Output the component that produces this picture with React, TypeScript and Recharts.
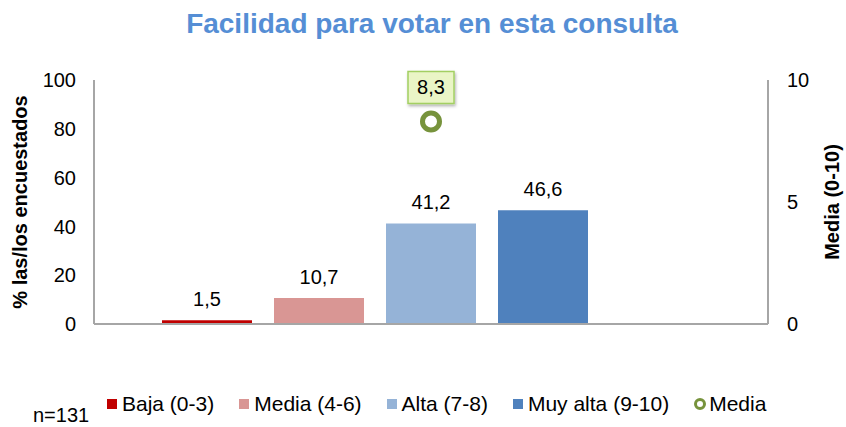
import React from "react";
import {
  ComposedChart,
  Bar,
  Line,
  XAxis,
  YAxis,
  LabelList,
} from "recharts";

const title = "Facilidad para votar en esta consulta";
const categories = ["Baja (0-3)", "Media (4-6)", "Alta (7-8)", "Muy alta (9-10)"];
const shares = [1.5, 10.7, 41.2, 46.6];
const barColors = ["#C00000", "#D99694", "#95B3D7", "#4F81BD"];
const meanLabel = "Media";
const meanScore = 8.3;
const leftTicks = [0, 20, 40, 60, 80, 100];
const rightTicks = [0, 5, 10];
const sampleNote = "n=131";

const FONT = "'Liberation Sans', Arial, sans-serif";
const AXIS = "#A6A6A6";
const GREEN = "#77933C";

const row: Record<string, number | string | null> = { name: "Total", blank: null, media: meanScore };
categories.forEach((_, i) => {
  row[`s${i}`] = shares[i];
});
const data = [row];

const fmt = (v: unknown) => (typeof v === "number" ? v.toFixed(1).replace(".", ",") : "");

function MeanBox(props: any) {
  const { x, y, value } = props;
  if (x == null || y == null) return null;
  return (
    <g>
      <defs>
        <filter id="boxShadow" x="-30%" y="-30%" width="160%" height="180%">
          <feDropShadow dx="1" dy="2" stdDeviation="1.5" floodColor="#000" floodOpacity="0.3" />
        </filter>
      </defs>
      <rect
        x={x - 23}
        y={y - 50}
        width={46}
        height={32}
        fill="#EAF5C6"
        stroke="#A3CF62"
        strokeWidth={1.5}
        filter="url(#boxShadow)"
      />
      <text
        x={x}
        y={y - 34}
        textAnchor="middle"
        dominantBaseline="central"
        fontSize={20}
        fontFamily={FONT}
        fill="#000"
      >
        {fmt(value)}
      </text>
    </g>
  );
}

function LeftTitle(props: any) {
  const vb = props.viewBox || {};
  const cx = vb.x + 20;
  const cy = vb.y + vb.height / 2;
  return (
    <text
      x={cx}
      y={cy}
      transform={`rotate(-90 ${cx} ${cy})`}
      textAnchor="middle"
      dominantBaseline="central"
      fontSize={20}
      fontWeight="bold"
      fontFamily={FONT}
      fill="#000"
    >
      % las/los encuestados
    </text>
  );
}

function RightTitle(props: any) {
  const vb = props.viewBox || {};
  const cx = vb.x + 64;
  const cy = vb.y + vb.height / 2;
  return (
    <text
      x={cx}
      y={cy}
      transform={`rotate(-90 ${cx} ${cy})`}
      textAnchor="middle"
      dominantBaseline="central"
      fontSize={20}
      fontWeight="bold"
      fontFamily={FONT}
      fill="#000"
    >
      Media (0-10)
    </text>
  );
}

export default function App() {
  const tick = { fill: "#000", fontSize: 20, fontFamily: FONT };
  return (
    <div style={{ position: "absolute", left: 0, top: 0, width: 846, height: 427, background: "#fff", fontFamily: FONT }}>
      <div
        style={{
          position: "absolute",
          left: 0,
          top: 8,
          width: 864,
          textAlign: "center",
          fontSize: 28,
          lineHeight: "32px",
          fontWeight: "bold",
          color: "#558ED5",
        }}
      >
        {title}
      </div>
      <ComposedChart
        width={846}
        height={427}
        data={data}
        margin={{ top: 80, right: 0, bottom: 103, left: 0 }}
        barSize={90}
        barGap={22}
      >
        <XAxis dataKey="name" hide />
        <YAxis
          yAxisId="left"
          width={94}
          domain={[0, 100]}
          ticks={leftTicks}
          interval={0}
          axisLine={{ stroke: AXIS, strokeWidth: 2 }}
          tickLine={false}
          tickMargin={12}
          tick={tick}
          label={{ content: LeftTitle }}
        />
        <YAxis
          yAxisId="right"
          orientation="right"
          width={78}
          domain={[0, 10]}
          ticks={rightTicks}
          interval={0}
          axisLine={{ stroke: AXIS, strokeWidth: 2 }}
          tickLine={false}
          tickMargin={13}
          tick={tick}
          label={{ content: RightTitle }}
        />
        {categories.map((c, i) => (
          <Bar key={c} yAxisId="left" dataKey={`s${i}`} name={c} fill={barColors[i]} isAnimationActive={false}>
            <LabelList
              dataKey={`s${i}`}
              position="top"
              offset={14}
              formatter={fmt}
              style={{ fill: "#000", fontSize: 20, fontFamily: FONT }}
            />
          </Bar>
        ))}
        <Bar yAxisId="left" dataKey="blank" fill="none" isAnimationActive={false} />
        <Line
          yAxisId="right"
          dataKey="media"
          name={meanLabel}
          stroke="none"
          isAnimationActive={false}
          dot={{ r: 8.5, stroke: GREEN, strokeWidth: 5, fill: "#fff" }}
          activeDot={false}
        >
          <LabelList dataKey="media" content={MeanBox} />
        </Line>
      </ComposedChart>
      <svg width={846} height={427} style={{ position: "absolute", left: 0, top: 0, pointerEvents: "none" }}>
        <line x1={94} x2={768} y1={324} y2={324} stroke={AXIS} strokeWidth={2} />
      </svg>
      <div
        style={{
          position: "absolute",
          left: 107,
          top: 393,
          display: "flex",
          alignItems: "center",
          fontSize: 21,
          lineHeight: "21px",
          color: "#000",
          whiteSpace: "nowrap",
        }}
      >
        {categories.map((c, i) => (
          <div key={c} style={{ display: "flex", alignItems: "center", marginRight: 25 }}>
            <span style={{ width: 10, height: 10, background: barColors[i], marginRight: 5, display: "inline-block" }} />
            <span>{c}</span>
          </div>
        ))}
        <div style={{ display: "flex", alignItems: "center" }}>
          <span
            style={{
              width: 6,
              height: 6,
              border: `3.5px solid ${GREEN}`,
              borderRadius: "50%",
              background: "#fff",
              marginRight: 3,
              display: "inline-block",
            }}
          />
          <span>{meanLabel}</span>
        </div>
      </div>
      <div style={{ position: "absolute", left: 33, top: 405, fontSize: 20, lineHeight: "20px", color: "#000" }}>
        {sampleNote}
      </div>
    </div>
  );
}
